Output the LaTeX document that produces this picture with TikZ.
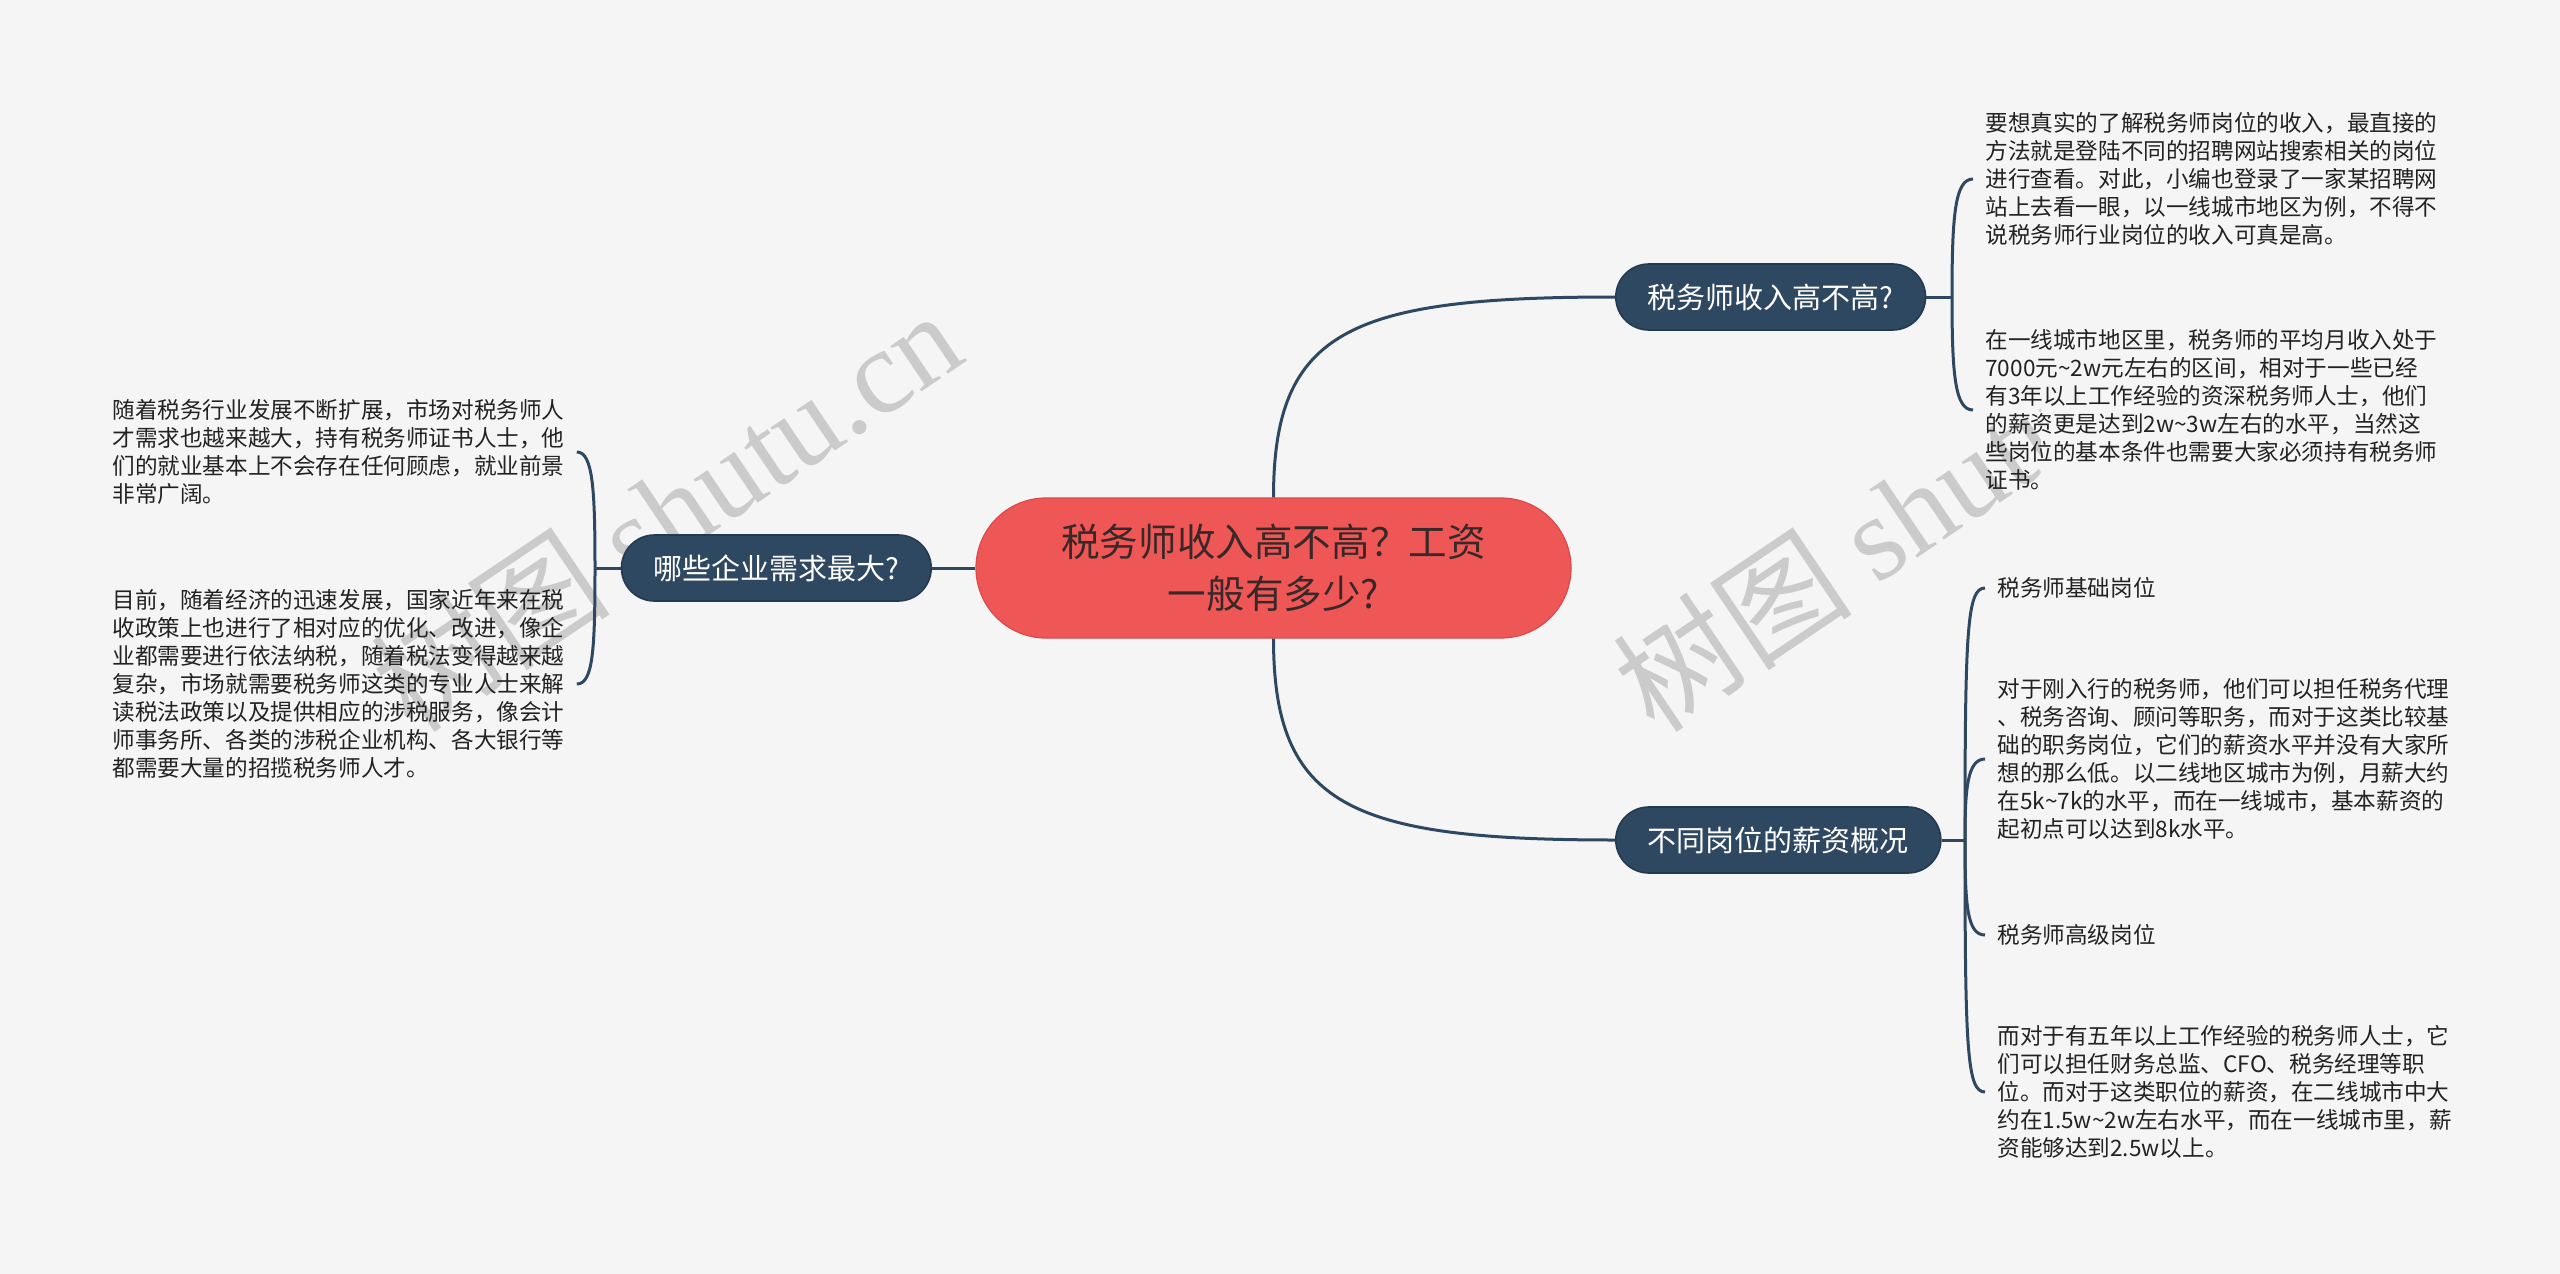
\documentclass[tikz,border=0pt]{standalone}
\usepackage{fontspec}
\setmainfont{Noto Sans CJK SC}
\newfontfamily\wmserif{Liberation Serif}
\definecolor{bg}{HTML}{F5F5F5}
\definecolor{navy}{HTML}{2F4862}
\definecolor{navyline}{HTML}{243A50}
\definecolor{redfill}{HTML}{EF5757}
\definecolor{redline}{HTML}{D84A4A}
\definecolor{ctext}{HTML}{3A2828}
\definecolor{wm}{HTML}{CBCBCB}
\definecolor{leaftext}{HTML}{222222}
\begin{document}
\begin{tikzpicture}[x=0.5pt,y=-0.5pt,
  branch/.style={draw=navyline, line width=0.8pt, fill=navy, text=white,
    rounded corners=16.5pt, minimum height=33pt, inner xsep=16pt,
    font=\fontsize{14.5pt}{17pt}\selectfont},
  centre/.style={draw=redline, line width=0.6pt, fill=redfill, text=ctext,
    rounded corners=35pt, minimum height=70pt, minimum width=297.5pt, align=center,
    font=\fontsize{19.3pt}{26pt}\selectfont},
  leaf/.style={align=left, inner xsep=6pt, inner ysep=2pt, text=leaftext,
    font=\fontsize{11.3pt}{14pt}\selectfont},
  link/.style={draw=navy, line width=1.5pt},
  watermark/.style={rotate=34, text=wm, font=\fontsize{60pt}{62pt}\selectfont, inner sep=0pt}
]
% background
\path[fill=bg] (0,0) rectangle (2560,1274);
\useasboundingbox (0,0) rectangle (2560,1274);

% watermarks
\node[watermark] (wmA) at (666,510) {树图 {\wmserif shutu.cn}};
\begin{scope}
\clip (1500,0) rectangle (2040,1274);
\node[watermark] (wmB) at (1908,510) {树图 {\wmserif shutu.cn}};
\end{scope}

% nodes
\node[centre] (c) at (1273.5,568) {税务师收入高不高？工资\\一般有多少?};
\node[branch, anchor=west] (tr) at (1615,297) {税务师收入高不高?};
\node[branch, anchor=west] (br) at (1615,840) {不同岗位的薪资概况};
\node[branch, anchor=east] (l) at (932,568) {哪些企业需求最大?};

\node[leaf, anchor=west] (r1) at (1973,179) {要想真实的了解税务师岗位的收入，最直接的\\方法就是登陆不同的招聘网站搜索相关的岗位\\进行查看。对此，小编也登录了一家某招聘网\\站上去看一眼，以一线城市地区为例，不得不\\说税务师行业岗位的收入可真是高。};
\node[leaf, anchor=west] (r2) at (1973,410) {在一线城市地区里，税务师的平均月收入处于\\7000元\textasciitilde 2w元左右的区间，相对于一些已经\\有3年以上工作经验的资深税务师人士，他们\\的薪资更是达到2w\textasciitilde 3w左右的水平，当然这\\些岗位的基本条件也需要大家必须持有税务师\\证书。};

\node[leaf, anchor=west] (b1) at (1985,588) {税务师基础岗位};
\node[leaf, anchor=west] (b2) at (1985,759) {对于刚入行的税务师，他们可以担任税务代理\\、税务咨询、顾问等职务，而对于这类比较基\\础的职务岗位，它们的薪资水平并没有大家所\\想的那么低。以二线地区城市为例，月薪大约\\在5k\textasciitilde 7k的水平，而在一线城市，基本薪资的\\起初点可以达到8k水平。};
\node[leaf, anchor=west] (b3) at (1985,935) {税务师高级岗位};
\node[leaf, anchor=west] (b4) at (1985,1092) {而对于有五年以上工作经验的税务师人士，它\\们可以担任财务总监、CFO、税务经理等职\\位。而对于这类职位的薪资，在二线城市中大\\约在1.5w\textasciitilde 2w左右水平，而在一线城市里，薪\\资能够达到2.5w以上。};

\node[leaf, anchor=west] (l1) at (100,452) {随着税务行业发展不断扩展，市场对税务师人\\才需求也越来越大，持有税务师证书人士，他\\们的就业基本上不会存在任何顾虑，就业前景\\非常广阔。};
\node[leaf, anchor=west] (l2) at (100,684) {目前，随着经济的迅速发展，国家近年来在税\\收政策上也进行了相对应的优化、改进，像企\\业都需要进行依法纳税，随着税法变得越来越\\复杂，市场就需要税务师这类的专业人士来解\\读税法政策以及提供相应的涉税服务，像会计\\师事务所、各类的涉税企业机构、各大银行等\\都需要大量的招揽税务师人才。};

% main connectors
\draw[link] (c.north) .. controls (1273.5,330) and (1350,297) .. (tr.west);
\draw[link] (c.south) .. controls (1273.5,806) and (1350,840) .. (br.west);
\draw[link] (c.west) -- (l.east);

% right top bracket
\coordinate (j1) at (1952,297);
\draw[link] (tr.east) -- (j1);
\draw[link] (j1) .. controls (1952,215) and (1955,179) .. (r1.west);
\draw[link] (j1) .. controls (1952,375) and (1955,410) .. (r2.west);

% right bottom bracket
\coordinate (j2) at (1965,840);
\draw[link] (br.east) -- (j2);
\draw[link] (j2) .. controls (1965,630) and (1967,588) .. (b1.west);
\draw[link] (j2) .. controls (1965,790) and (1967,759) .. (b2.west);
\draw[link] (j2) .. controls (1965,905) and (1967,935) .. (b3.west);
\draw[link] (j2) .. controls (1965,1050) and (1967,1092) .. (b4.west);

% left bracket
\coordinate (j3) at (595,568);
\draw[link] (l.west) -- (j3);
\draw[link] (j3) .. controls (595,490) and (593,452) .. (l1.east);
\draw[link] (j3) .. controls (595,650) and (593,684) .. (l2.east);
\end{tikzpicture}
\end{document}
